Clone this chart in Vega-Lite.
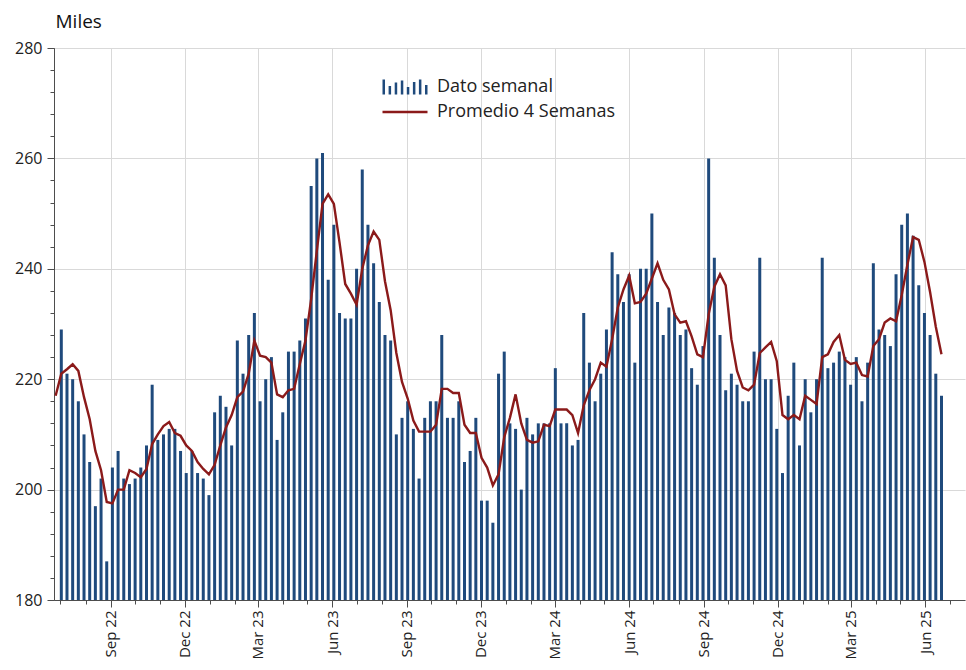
{
  "$schema": "https://vega.github.io/schema/vega-lite/v6.json",
  "width": 911,
  "height": 552,
  "autosize": {"type": "none"},
  "padding": {"left": 54, "top": 48, "right": 1, "bottom": 70},
  "background": "white",
  "config": {
    "font": "Open Sans",
    "view": {"stroke": null},
    "axis": {"labelFont": "Open Sans", "titleFont": "Open Sans"}
  },
  "data": {
    "values": [
      {"fecha": "2022/06/25", "dato": null, "prom": 217},
      {"fecha": "2022/07/02", "dato": 229, "prom": 221},
      {"fecha": "2022/07/09", "dato": 221, "prom": 221.8},
      {"fecha": "2022/07/16", "dato": 220, "prom": 222.7},
      {"fecha": "2022/07/23", "dato": 216, "prom": 221.5},
      {"fecha": "2022/07/30", "dato": 210, "prom": 216.75},
      {"fecha": "2022/08/06", "dato": 205, "prom": 212.75},
      {"fecha": "2022/08/13", "dato": 197, "prom": 207},
      {"fecha": "2022/08/20", "dato": 202, "prom": 203.5},
      {"fecha": "2022/08/27", "dato": 187, "prom": 197.75},
      {"fecha": "2022/09/03", "dato": 204, "prom": 197.5},
      {"fecha": "2022/09/10", "dato": 207, "prom": 200},
      {"fecha": "2022/09/17", "dato": 202, "prom": 200},
      {"fecha": "2022/09/24", "dato": 201, "prom": 203.5},
      {"fecha": "2022/10/01", "dato": 202, "prom": 203},
      {"fecha": "2022/10/08", "dato": 204, "prom": 202.25},
      {"fecha": "2022/10/15", "dato": 208, "prom": 203.75},
      {"fecha": "2022/10/22", "dato": 219, "prom": 208.25},
      {"fecha": "2022/10/29", "dato": 209, "prom": 210},
      {"fecha": "2022/11/05", "dato": 210, "prom": 211.5},
      {"fecha": "2022/11/12", "dato": 211, "prom": 212.25},
      {"fecha": "2022/11/19", "dato": 211, "prom": 210.25},
      {"fecha": "2022/11/26", "dato": 207, "prom": 209.75},
      {"fecha": "2022/12/03", "dato": 203, "prom": 208},
      {"fecha": "2022/12/10", "dato": 207, "prom": 207},
      {"fecha": "2022/12/17", "dato": 203, "prom": 205},
      {"fecha": "2022/12/24", "dato": 202, "prom": 203.75},
      {"fecha": "2022/12/31", "dato": 199, "prom": 202.75},
      {"fecha": "2023/01/07", "dato": 214, "prom": 204.5},
      {"fecha": "2023/01/14", "dato": 217, "prom": 208},
      {"fecha": "2023/01/21", "dato": 215, "prom": 211.25},
      {"fecha": "2023/01/28", "dato": 208, "prom": 213.5},
      {"fecha": "2023/02/04", "dato": 227, "prom": 216.75},
      {"fecha": "2023/02/11", "dato": 221, "prom": 217.75},
      {"fecha": "2023/02/18", "dato": 228, "prom": 221},
      {"fecha": "2023/02/25", "dato": 232, "prom": 227},
      {"fecha": "2023/03/04", "dato": 216, "prom": 224.25},
      {"fecha": "2023/03/11", "dato": 220, "prom": 224},
      {"fecha": "2023/03/18", "dato": 224, "prom": 223},
      {"fecha": "2023/03/25", "dato": 209, "prom": 217.25},
      {"fecha": "2023/04/01", "dato": 214, "prom": 216.75},
      {"fecha": "2023/04/08", "dato": 225, "prom": 218},
      {"fecha": "2023/04/15", "dato": 225, "prom": 218.25},
      {"fecha": "2023/04/22", "dato": 227, "prom": 222.75},
      {"fecha": "2023/04/29", "dato": 231, "prom": 227},
      {"fecha": "2023/05/06", "dato": 255, "prom": 234.5},
      {"fecha": "2023/05/13", "dato": 260, "prom": 243.25},
      {"fecha": "2023/05/20", "dato": 261, "prom": 251.75},
      {"fecha": "2023/05/27", "dato": 238, "prom": 253.5},
      {"fecha": "2023/06/03", "dato": 248, "prom": 251.75},
      {"fecha": "2023/06/10", "dato": 232, "prom": 244.75},
      {"fecha": "2023/06/17", "dato": 231, "prom": 237.25},
      {"fecha": "2023/06/24", "dato": 231, "prom": 235.5},
      {"fecha": "2023/07/01", "dato": 240, "prom": 233.5},
      {"fecha": "2023/07/08", "dato": 258, "prom": 240},
      {"fecha": "2023/07/15", "dato": 248, "prom": 244.25},
      {"fecha": "2023/07/22", "dato": 241, "prom": 246.75},
      {"fecha": "2023/07/29", "dato": 234, "prom": 245.25},
      {"fecha": "2023/08/05", "dato": 228, "prom": 237.75},
      {"fecha": "2023/08/12", "dato": 227, "prom": 232.5},
      {"fecha": "2023/08/19", "dato": 210, "prom": 224.75},
      {"fecha": "2023/08/26", "dato": 213, "prom": 219.5},
      {"fecha": "2023/09/02", "dato": 216, "prom": 216.5},
      {"fecha": "2023/09/09", "dato": 211, "prom": 212.5},
      {"fecha": "2023/09/16", "dato": 202, "prom": 210.5},
      {"fecha": "2023/09/23", "dato": 213, "prom": 210.5},
      {"fecha": "2023/09/30", "dato": 216, "prom": 210.5},
      {"fecha": "2023/10/07", "dato": 216, "prom": 211.75},
      {"fecha": "2023/10/14", "dato": 228, "prom": 218.25},
      {"fecha": "2023/10/21", "dato": 213, "prom": 218.25},
      {"fecha": "2023/10/28", "dato": 213, "prom": 217.5},
      {"fecha": "2023/11/04", "dato": 216, "prom": 217.5},
      {"fecha": "2023/11/11", "dato": 205, "prom": 211.75},
      {"fecha": "2023/11/18", "dato": 207, "prom": 210.25},
      {"fecha": "2023/11/25", "dato": 213, "prom": 210.25},
      {"fecha": "2023/12/02", "dato": 198, "prom": 205.75},
      {"fecha": "2023/12/09", "dato": 198, "prom": 204},
      {"fecha": "2023/12/16", "dato": 194, "prom": 200.75},
      {"fecha": "2023/12/23", "dato": 221, "prom": 202.75},
      {"fecha": "2023/12/30", "dato": 225, "prom": 209.5},
      {"fecha": "2024/01/06", "dato": 212, "prom": 213},
      {"fecha": "2024/01/13", "dato": 211, "prom": 217.25},
      {"fecha": "2024/01/20", "dato": 200, "prom": 212},
      {"fecha": "2024/01/27", "dato": 213, "prom": 209},
      {"fecha": "2024/02/03", "dato": 210, "prom": 208.5},
      {"fecha": "2024/02/10", "dato": 212, "prom": 208.75},
      {"fecha": "2024/02/17", "dato": 212, "prom": 211.75},
      {"fecha": "2024/02/24", "dato": 212, "prom": 211.5},
      {"fecha": "2024/03/02", "dato": 222, "prom": 214.5},
      {"fecha": "2024/03/09", "dato": 212, "prom": 214.5},
      {"fecha": "2024/03/16", "dato": 212, "prom": 214.5},
      {"fecha": "2024/03/23", "dato": 208, "prom": 213.5},
      {"fecha": "2024/03/30", "dato": 209, "prom": 210.25},
      {"fecha": "2024/04/06", "dato": 232, "prom": 215.25},
      {"fecha": "2024/04/13", "dato": 223, "prom": 218},
      {"fecha": "2024/04/20", "dato": 216, "prom": 220},
      {"fecha": "2024/04/27", "dato": 221, "prom": 223},
      {"fecha": "2024/05/04", "dato": 229, "prom": 222.25},
      {"fecha": "2024/05/11", "dato": 243, "prom": 227.25},
      {"fecha": "2024/05/18", "dato": 239, "prom": 233},
      {"fecha": "2024/05/25", "dato": 234, "prom": 236.25},
      {"fecha": "2024/06/01", "dato": 239, "prom": 238.75},
      {"fecha": "2024/06/08", "dato": 223, "prom": 233.75},
      {"fecha": "2024/06/15", "dato": 240, "prom": 234},
      {"fecha": "2024/06/22", "dato": 240, "prom": 235.5},
      {"fecha": "2024/06/29", "dato": 250, "prom": 238.25},
      {"fecha": "2024/07/06", "dato": 234, "prom": 241},
      {"fecha": "2024/07/13", "dato": 228, "prom": 238},
      {"fecha": "2024/07/20", "dato": 233, "prom": 236.25},
      {"fecha": "2024/07/27", "dato": 232, "prom": 231.75},
      {"fecha": "2024/08/03", "dato": 228, "prom": 230.25},
      {"fecha": "2024/08/10", "dato": 229, "prom": 230.5},
      {"fecha": "2024/08/17", "dato": 222, "prom": 227.75},
      {"fecha": "2024/08/24", "dato": 219, "prom": 224.5},
      {"fecha": "2024/08/31", "dato": 226, "prom": 224},
      {"fecha": "2024/09/07", "dato": 260, "prom": 231.75},
      {"fecha": "2024/09/14", "dato": 242, "prom": 236.75},
      {"fecha": "2024/09/21", "dato": 228, "prom": 239},
      {"fecha": "2024/09/28", "dato": 218, "prom": 237},
      {"fecha": "2024/10/05", "dato": 221, "prom": 227.25},
      {"fecha": "2024/10/12", "dato": 219, "prom": 221.5},
      {"fecha": "2024/10/19", "dato": 216, "prom": 218.5},
      {"fecha": "2024/10/26", "dato": 216, "prom": 218},
      {"fecha": "2024/11/02", "dato": 225, "prom": 219},
      {"fecha": "2024/11/09", "dato": 242, "prom": 224.75},
      {"fecha": "2024/11/16", "dato": 220, "prom": 225.75},
      {"fecha": "2024/11/23", "dato": 220, "prom": 226.75},
      {"fecha": "2024/11/30", "dato": 211, "prom": 223.25},
      {"fecha": "2024/12/07", "dato": 203, "prom": 213.5},
      {"fecha": "2024/12/14", "dato": 217, "prom": 212.75},
      {"fecha": "2024/12/21", "dato": 223, "prom": 213.5},
      {"fecha": "2024/12/28", "dato": 208, "prom": 212.75},
      {"fecha": "2025/01/04", "dato": 220, "prom": 217},
      {"fecha": "2025/01/11", "dato": 214, "prom": 216.25},
      {"fecha": "2025/01/18", "dato": 220, "prom": 215.5},
      {"fecha": "2025/01/25", "dato": 242, "prom": 224},
      {"fecha": "2025/02/01", "dato": 222, "prom": 224.5},
      {"fecha": "2025/02/08", "dato": 223, "prom": 226.75},
      {"fecha": "2025/02/15", "dato": 225, "prom": 228},
      {"fecha": "2025/02/22", "dato": 224, "prom": 223.5},
      {"fecha": "2025/03/01", "dato": 219, "prom": 222.75},
      {"fecha": "2025/03/08", "dato": 224, "prom": 223},
      {"fecha": "2025/03/15", "dato": 216, "prom": 220.75},
      {"fecha": "2025/03/22", "dato": 223, "prom": 220.5},
      {"fecha": "2025/03/29", "dato": 241, "prom": 226},
      {"fecha": "2025/04/05", "dato": 229, "prom": 227.25},
      {"fecha": "2025/04/12", "dato": 228, "prom": 230.25},
      {"fecha": "2025/04/19", "dato": 226, "prom": 231},
      {"fecha": "2025/04/26", "dato": 239, "prom": 230.5},
      {"fecha": "2025/05/03", "dato": 248, "prom": 235.25},
      {"fecha": "2025/05/10", "dato": 250, "prom": 240.75},
      {"fecha": "2025/05/17", "dato": 246, "prom": 245.75},
      {"fecha": "2025/05/24", "dato": 237, "prom": 245.25},
      {"fecha": "2025/05/31", "dato": 232, "prom": 241.25},
      {"fecha": "2025/06/07", "dato": 228, "prom": 235.75},
      {"fecha": "2025/06/14", "dato": 221, "prom": 229.5},
      {"fecha": "2025/06/21", "dato": 217, "prom": 224.5}
    ]
  },
  "layer": [
    {
      "mark": {"type": "bar", "size": 3},
      "encoding": {
        "x": {
          "field": "fecha",
          "type": "temporal",
          "scale": {"domain": [{"year": 2022, "month": 6, "date": 23}, {"year": 2025, "month": 7, "date": 20}], "padding": 0},
          "axis": {
            "title": null,
            "orient": "bottom",
            "values": [
              {"year": 2022, "month": 9, "date": 1}, {"year": 2022, "month": 12, "date": 1},
              {"year": 2023, "month": 3, "date": 1}, {"year": 2023, "month": 6, "date": 1},
              {"year": 2023, "month": 9, "date": 1}, {"year": 2023, "month": 12, "date": 1},
              {"year": 2024, "month": 3, "date": 1}, {"year": 2024, "month": 6, "date": 1},
              {"year": 2024, "month": 9, "date": 1}, {"year": 2024, "month": 12, "date": 1},
              {"year": 2025, "month": 3, "date": 1}, {"year": 2025, "month": 6, "date": 1}
            ],
            "format": "%b %y",
            "labelAngle": -90,
            "labelFontSize": 15,
            "labelColor": "#222222",
            "labelPadding": 3,
            "tickSize": 7,
            "tickColor": "#4d4d4d",
            "domainColor": "#4d4d4d",
            "grid": true,
            "gridColor": "#d9d9d9",
            "labelOverlap": false
          }
        },
        "y": {
          "field": "dato",
          "type": "quantitative",
          "scale": {"domain": [180, 280], "nice": false, "zero": false, "padding": 0},
          "axis": {
            "title": "Miles",
            "titleAngle": 0,
            "titleAlign": "left",
            "titleBaseline": "alphabetic",
            "titleX": 1,
            "titleY": -21,
            "titleFontSize": 19,
            "titleFontWeight": "normal",
            "titleColor": "#111111",
            "values": [180, 200, 220, 240, 260, 280],
            "labelFontSize": 16,
            "labelColor": "#222222",
            "labelPadding": 5,
            "tickSize": 7,
            "tickColor": "#4d4d4d",
            "domainColor": "#4d4d4d",
            "grid": true,
            "gridColor": "#d9d9d9"
          }
        },
        "y2": {"datum": 180},
        "color": {
          "datum": "Dato semanal",
          "scale": {"domain": ["Dato semanal", "Promedio 4 Semanas"], "range": ["#1f4a7c", "#8b1a1a"]},
          "legend": {
            "title": null,
            "orient": "none",
            "legendX": 341,
            "legendY": 29,
            "padding": 0,
            "symbolSize": 400,
            "labelFontSize": 18,
            "labelColor": "#222222",
            "labelOffset": 22,
            "labelLimit": 0,
            "rowPadding": 6,
            "encode": {
              "symbols": {
                "update": {
                  "shape": {"signal": "datum.value === 'Dato semanal' ? 'M-2.25,0.75V-0.75H-2V0.75Z M-1.64,0.75V-0.1H-1.39V0.75Z M-1.03,0.75V-0.45H-0.78V0.75Z M-0.42,0.75V-0.65H-0.17V0.75Z M0.18,0.75V0H0.43V0.75Z M0.79,0.75V-0.5H1.04V0.75Z M1.39,0.75V-0.75H1.64V0.75Z M2,0.75V-0.2H2.25V0.75Z' : 'M-2.25,-0.12H2.25V0.12H-2.25Z'"},
                  "fill": {"signal": "datum.value === 'Dato semanal' ? '#1f4a7c' : '#8b1a1a'"},
                  "stroke": {"value": "transparent"},
                  "strokeWidth": {"value": 0},
                  "opacity": {"value": 1}
                }
              }
            }
          }
        }
      }
    },
    {
      "mark": {"type": "line", "strokeWidth": 2.4, "interpolate": "linear"},
      "encoding": {
        "x": {
          "field": "fecha",
          "type": "temporal",
          "axis": {
            "title": null,
            "orient": "bottom",
            "labels": false,
            "grid": false,
            "domain": false,
            "tickSize": 4,
            "tickColor": "#4d4d4d",
            "values": [
              {"year": 2022, "month": 7, "date": 1}, {"year": 2022, "month": 8, "date": 1}, {"year": 2022, "month": 9, "date": 1},
              {"year": 2022, "month": 10, "date": 1}, {"year": 2022, "month": 11, "date": 1}, {"year": 2022, "month": 12, "date": 1},
              {"year": 2023, "month": 1, "date": 1}, {"year": 2023, "month": 2, "date": 1}, {"year": 2023, "month": 3, "date": 1},
              {"year": 2023, "month": 4, "date": 1}, {"year": 2023, "month": 5, "date": 1}, {"year": 2023, "month": 6, "date": 1},
              {"year": 2023, "month": 7, "date": 1}, {"year": 2023, "month": 8, "date": 1}, {"year": 2023, "month": 9, "date": 1},
              {"year": 2023, "month": 10, "date": 1}, {"year": 2023, "month": 11, "date": 1}, {"year": 2023, "month": 12, "date": 1},
              {"year": 2024, "month": 1, "date": 1}, {"year": 2024, "month": 2, "date": 1}, {"year": 2024, "month": 3, "date": 1},
              {"year": 2024, "month": 4, "date": 1}, {"year": 2024, "month": 5, "date": 1}, {"year": 2024, "month": 6, "date": 1},
              {"year": 2024, "month": 7, "date": 1}, {"year": 2024, "month": 8, "date": 1}, {"year": 2024, "month": 9, "date": 1},
              {"year": 2024, "month": 10, "date": 1}, {"year": 2024, "month": 11, "date": 1}, {"year": 2024, "month": 12, "date": 1},
              {"year": 2025, "month": 1, "date": 1}, {"year": 2025, "month": 2, "date": 1}, {"year": 2025, "month": 3, "date": 1},
              {"year": 2025, "month": 4, "date": 1}, {"year": 2025, "month": 5, "date": 1}, {"year": 2025, "month": 6, "date": 1},
              {"year": 2025, "month": 7, "date": 1}
            ]
          }
        },
        "y": {
          "field": "prom",
          "type": "quantitative",
          "axis": {
            "title": null,
            "orient": "left",
            "labels": false,
            "grid": false,
            "domain": false,
            "tickSize": 4,
            "tickColor": "#4d4d4d",
            "values": [180, 184, 188, 192, 196, 200, 204, 208, 212, 216, 220, 224, 228, 232, 236, 240, 244, 248, 252, 256, 260, 264, 268, 272, 276, 280]
          }
        },
        "color": {"datum": "Promedio 4 Semanas"}
      }
    }
  ],
  "resolve": {"axis": {"x": "independent", "y": "independent"}}
}
